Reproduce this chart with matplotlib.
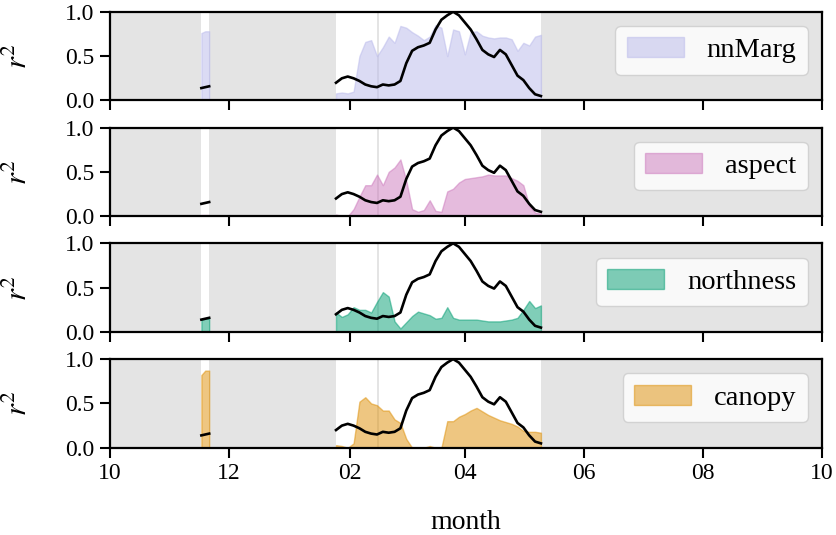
"""r^2 of each predictor against the normalised snow-depth curve, one panel per predictor"""

import numpy as np
import matplotlib
matplotlib.use("Agg")
import matplotlib.pyplot as plt
import matplotlib.dates as mdates

# Main observation window: every 3rd day from 25 Jan to 10 May
main_dates = np.arange("2019-01-25", "2019-05-11", 3, dtype="datetime64[D]")
# Short November window
nov_dates = np.array(["2018-11-17", "2018-11-19", "2018-11-21"], dtype="datetime64[D]")

# Normalised snow depth (black line)
snow = [0.20, 0.25, 0.27, 0.25, 0.22, 0.18, 0.16, 0.15, 0.18, 0.17, 0.18, 0.22,
        0.42, 0.56, 0.60, 0.62, 0.65, 0.80, 0.91, 0.96, 1.00, 0.96, 0.88, 0.80,
        0.69, 0.57, 0.52, 0.49, 0.57, 0.52, 0.40, 0.28, 0.23, 0.14, 0.07, 0.05]
snow_nov = [0.14, 0.15, 0.16]

nnmarg = [0.08, 0.09, 0.08, 0.10, 0.50, 0.66, 0.68, 0.50, 0.60, 0.72, 0.65, 0.84,
          0.82, 0.77, 0.73, 0.68, 0.72, 0.85, 0.82, 0.50, 0.80, 0.78, 0.52, 0.77,
          0.78, 0.73, 0.71, 0.70, 0.71, 0.71, 0.69, 0.56, 0.65, 0.62, 0.72, 0.74]
nnmarg_nov = [0.76, 0.78, 0.78]

aspect = [0.02, 0.00, 0.00, 0.08, 0.22, 0.35, 0.35, 0.47, 0.35, 0.50, 0.55, 0.64,
          0.40, 0.08, 0.05, 0.07, 0.18, 0.06, 0.05, 0.28, 0.31, 0.38, 0.42, 0.43,
          0.44, 0.45, 0.47, 0.46, 0.46, 0.46, 0.43, 0.40, 0.35, 0.12, 0.04, 0.03]
aspect_nov = [0.01, 0.01, 0.01]

northness = [0.22, 0.17, 0.20, 0.28, 0.25, 0.25, 0.22, 0.34, 0.45, 0.40, 0.12, 0.04,
             0.11, 0.18, 0.23, 0.21, 0.19, 0.15, 0.16, 0.28, 0.16, 0.14, 0.14, 0.14,
             0.14, 0.13, 0.12, 0.12, 0.12, 0.13, 0.14, 0.16, 0.25, 0.35, 0.27, 0.30]
northness_nov = [0.14, 0.15, 0.15]

canopy = [0.03, 0.02, 0.00, 0.05, 0.52, 0.57, 0.50, 0.48, 0.42, 0.42, 0.32, 0.28,
          0.10, 0.00, 0.00, 0.00, 0.02, 0.00, 0.00, 0.30, 0.30, 0.35, 0.38, 0.42,
          0.45, 0.41, 0.37, 0.34, 0.31, 0.29, 0.27, 0.24, 0.19, 0.18, 0.18, 0.17]
canopy_nov = [0.82, 0.87, 0.87]

names = ["nnMarg", "aspect", "northness", "canopy"]
colors = ["#b9b9eb", "#cc78bc", "#029e73", "#de8f05"]

# Periods without imagery
gaps = [("2018-10-01", "2018-11-17"),
        ("2018-11-21", "2019-01-25"),
        ("2019-02-15", "2019-02-16"),
        ("2019-05-10", "2019-10-01")]


def main():
    plt.rcParams["font.family"] = ["Liberation Serif", "DejaVu Serif"]
    plt.rcParams["mathtext.fontset"] = "stix"
    plt.rcParams["axes.linewidth"] = 1.6
    plt.rcParams["xtick.major.size"] = 7.5
    plt.rcParams["ytick.major.size"] = 7.5
    plt.rcParams["xtick.major.width"] = 1.5
    plt.rcParams["ytick.major.width"] = 1.5
    plt.rcParams["xtick.labelsize"] = 17
    plt.rcParams["ytick.labelsize"] = 17

    series = [(nnmarg, nnmarg_nov), (aspect, aspect_nov),
              (northness, northness_nov), (canopy, canopy_nov)]

    fig, axes = plt.subplots(4, 1, sharex=True, figsize=(8.37, 5.35), dpi=100)
    fig.subplots_adjust(left=0.131, right=0.982, top=0.978, bottom=0.163, hspace=0.305)

    for ax, name, color, (vals, vals_nov) in zip(axes, names, colors, series):
        for g0, g1 in gaps:
            ax.axvspan(np.datetime64(g0), np.datetime64(g1), color="0.895", lw=0, zorder=0)

        ax.fill_between(main_dates, vals, color=color, alpha=0.5, lw=1, label=name, zorder=2)
        ax.fill_between(nov_dates, vals_nov, color=color, alpha=0.5, lw=1, zorder=2)
        ax.plot(main_dates, snow, color="black", lw=1.9, zorder=3)
        ax.plot(nov_dates, snow_nov, color="black", lw=1.9, zorder=3)

        ax.set_ylim(0, 1)
        ax.set_yticks([0, 0.5, 1.0])
        ax.set_ylabel("$r^2$", fontsize=22, labelpad=22)
        ax.legend(loc="upper right", fontsize=20.5)

    axes[-1].set_xlim(np.datetime64("2018-10-01"), np.datetime64("2019-10-01"))
    axes[-1].xaxis.set_major_locator(mdates.MonthLocator(bymonth=[10, 12, 2, 4, 6, 8]))
    axes[-1].xaxis.set_major_formatter(mdates.DateFormatter("%m"))
    axes[-1].set_xlabel("month", fontsize=20, labelpad=19)

    fig.savefig("out.png", dpi=100)


if __name__ == "__main__":
    main()
